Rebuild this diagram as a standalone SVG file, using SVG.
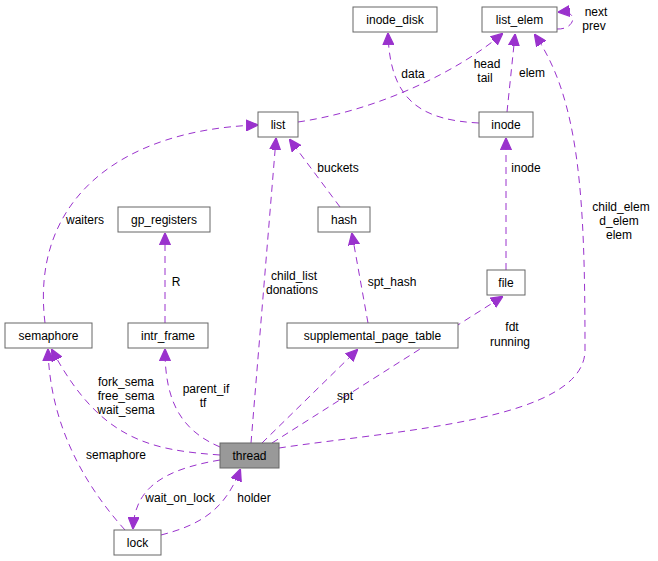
<svg xmlns="http://www.w3.org/2000/svg" width="658" height="561" viewBox="0 0 658 561">
<style>
.n rect{fill:#fff;stroke:#666;stroke-width:1}
text{font-family:"Liberation Sans",Arial,sans-serif;font-size:12px;fill:#000}
.n text{text-anchor:middle}
.e path{fill:none;stroke:#9a32cd;stroke-width:1;stroke-dasharray:7,5}
.l{text-anchor:middle}
</style>
<defs><marker id="a" viewBox="0 0 10 10" refX="9" refY="5" markerWidth="12" markerHeight="12" markerUnits="userSpaceOnUse" orient="auto"><path d="M0,0.5L10,5L0,9.5z" fill="#9a32cd" stroke="#9a32cd" stroke-dasharray="none"/></marker></defs>
<rect width="658" height="561" fill="#fff"/>
<g class="e">
<path d="M298,122C380,110 460,70 502,34" marker-end="url(#a)"/>
<path d="M479,123C420,120 390,100 388,34" marker-end="url(#a)"/>
<path d="M507,112L515,35" marker-end="url(#a)"/>
<path d="M557,29C575,30 580,10 559,12" marker-end="url(#a)"/>
<path d="M279,448C400,430 585,420 585,350C585,200 580,100 535,35" marker-end="url(#a)"/>
<path d="M340,207L290,140" marker-end="url(#a)"/>
<path d="M506,270L506,139" marker-end="url(#a)"/>
<path d="M251,443L276,139" marker-end="url(#a)"/>
<path d="M45,323C30,200 120,130 257,125" marker-end="url(#a)"/>
<path d="M165,323L165,234" marker-end="url(#a)"/>
<path d="M368,323L352,234" marker-end="url(#a)"/>
<path d="M220,455C150,450 100,440 52,350" marker-end="url(#a)"/>
<path d="M220,447C180,430 165,400 165,350" marker-end="url(#a)"/>
<path d="M262,443L357,350" marker-end="url(#a)"/>
<path d="M272,443L502,297" marker-end="url(#a)"/>
<path d="M220,460C160,470 135,490 133,528" marker-end="url(#a)"/>
<path d="M161,535C200,525 225,510 240,470" marker-end="url(#a)"/>
<path d="M125,530C80,480 50,420 48,350" marker-end="url(#a)"/>
</g>
<g class="labels">
<text x="487" y="68" class="l">head</text><text x="485" y="82" class="l">tail</text>
<text x="413" y="78" class="l">data</text>
<text x="532" y="77" class="l">elem</text>
<text x="596" y="16" class="l">next</text><text x="594" y="30" class="l">prev</text>
<text x="621" y="211" class="l">child_elem</text><text x="619" y="225" class="l">d_elem</text><text x="619" y="239" class="l">elem</text>
<text x="338" y="172" class="l">buckets</text>
<text x="526" y="172" class="l">inode</text>
<text x="294" y="280" class="l">child_list</text><text x="292" y="294" class="l">donations</text>
<text x="85" y="224" class="l">waiters</text>
<text x="176" y="286" class="l">R</text>
<text x="392" y="286" class="l">spt_hash</text>
<text x="126" y="386" class="l">fork_sema</text><text x="126" y="400" class="l">free_sema</text><text x="126" y="414" class="l">wait_sema</text>
<text x="206" y="393" class="l">parent_if</text><text x="203" y="407" class="l">tf</text>
<text x="345" y="400" class="l">spt</text>
<text x="512" y="331" class="l">fdt</text><text x="510" y="346" class="l">running</text>
<text x="116" y="459" class="l">semaphore</text>
<text x="180" y="502" class="l">wait_on_lock</text>
<text x="254" y="502" class="l">holder</text>
</g>
<g class="n" id="list_elem"><rect x="482" y="7" width="75" height="25"/><text x="519.5" y="24">list_elem</text></g>
<g class="n" id="inode_disk"><rect x="353" y="7" width="84" height="25"/><text x="395" y="24">inode_disk</text></g>
<g class="n" id="list"><rect x="258" y="112" width="40" height="25"/><text x="278" y="129">list</text></g>
<g class="n" id="inode"><rect x="479" y="112" width="54" height="25"/><text x="506" y="129">inode</text></g>
<g class="n" id="gp_registers"><rect x="118" y="207" width="92" height="25"/><text x="164" y="224">gp_registers</text></g>
<g class="n" id="hash"><rect x="318" y="207" width="52" height="25"/><text x="344" y="224">hash</text></g>
<g class="n" id="file"><rect x="487" y="270" width="38" height="25"/><text x="506" y="287">file</text></g>
<g class="n" id="semaphore"><rect x="5" y="323" width="87" height="25"/><text x="48.5" y="340">semaphore</text></g>
<g class="n" id="intr_frame"><rect x="128" y="323" width="80" height="25"/><text x="168" y="340">intr_frame</text></g>
<g class="n" id="supplemental_page_table"><rect x="287" y="323" width="171" height="25"/><text x="372.5" y="340">supplemental_page_table</text></g>
<g class="n" id="thread"><rect x="220" y="443" width="59" height="25" style="fill:#999"/><text x="249.5" y="460">thread</text></g>
<g class="n" id="lock"><rect x="114" y="530" width="47" height="25"/><text x="137.5" y="547">lock</text></g>
</svg>
